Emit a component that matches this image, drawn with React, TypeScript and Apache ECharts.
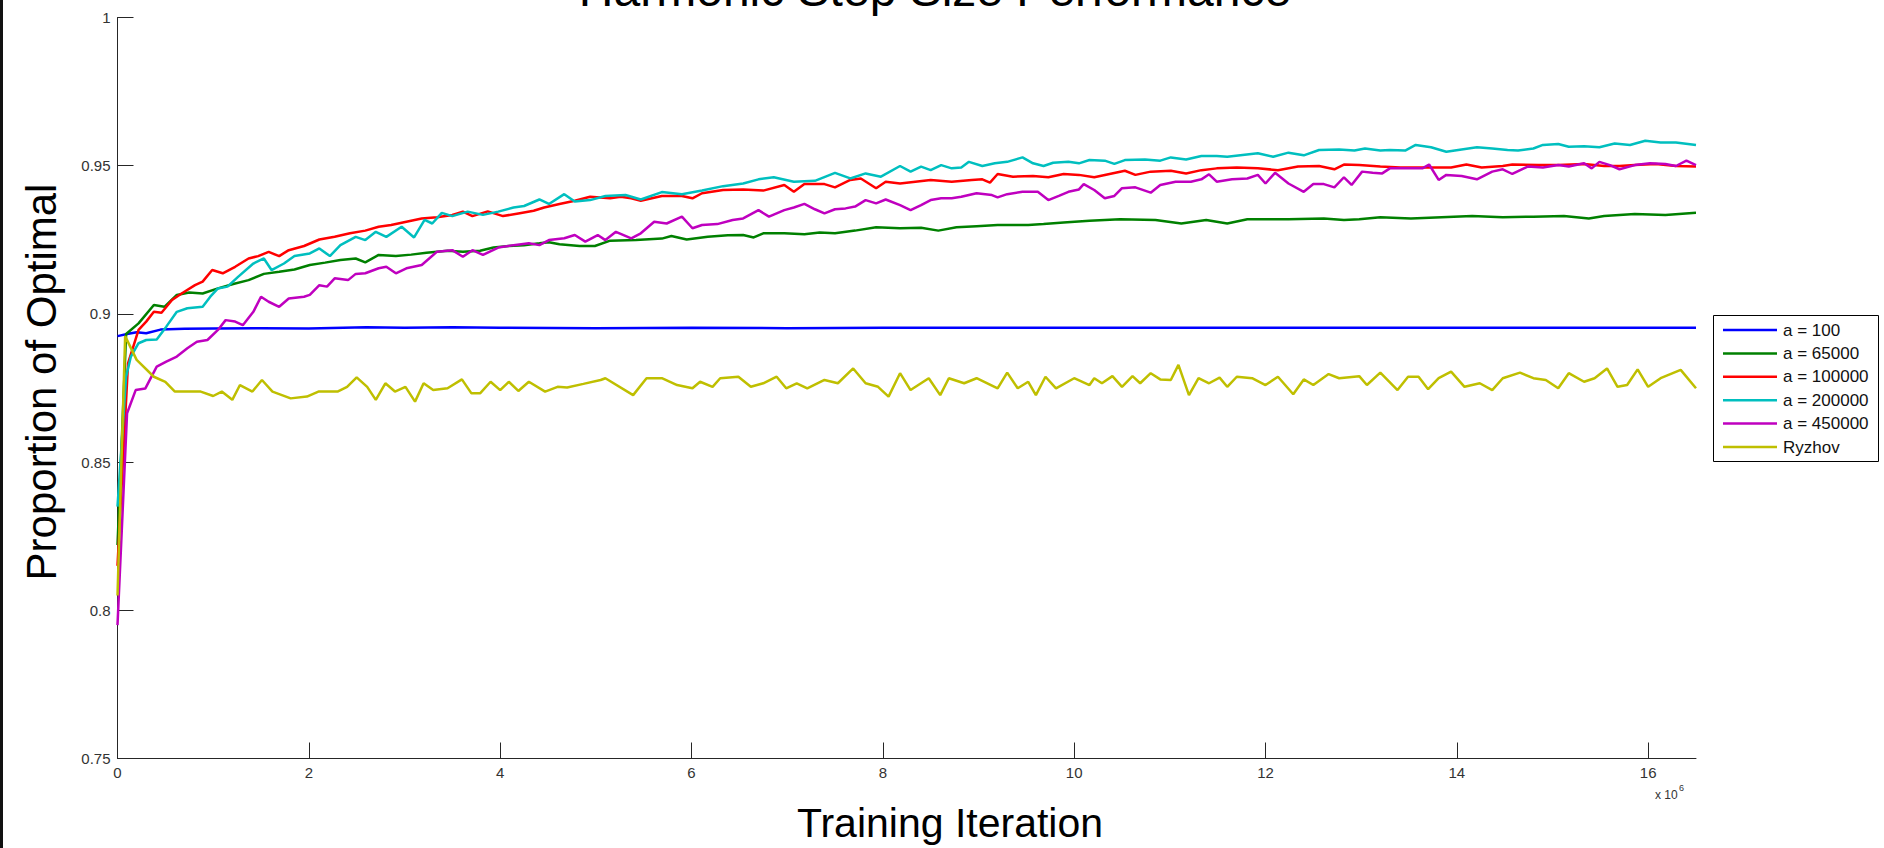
import React, { useEffect, useRef } from "react";
import * as echarts from "echarts";

// x values are in units of 10^6 training iterations
const SERIES_NAMES = ["a = 100", "a = 65000", "a = 100000", "a = 200000", "a = 450000", "Ryzhov"];
const SERIES_COLORS = ["#0000ff", "#008000", "#ff0000", "#00bfbf", "#bf00bf", "#bfbf00"];
const X_TICKS = [0, 2, 4, 6, 8, 10, 12, 14, 16];
const Y_TICKS = [0.75, 0.8, 0.85, 0.9, 0.95, 1];

const a100: [number, number][] = [
  [0, 0.8925], [0.1, 0.8932], [0.2, 0.8938], [0.3, 0.8935], [0.45, 0.8947], [0.7, 0.895], [1.0, 0.8951],
  [1.5, 0.8952], [2.0, 0.8951], [2.6, 0.8955], [3.0, 0.8953], [3.5, 0.8955], [4.0, 0.8953], [5.0, 0.8952],
  [6.0, 0.8953], [7.0, 0.8952], [8.0, 0.8953], [10.0, 0.8953], [12.0, 0.8953], [14.0, 0.8953], [16.5, 0.8953],
];

const a65000: [number, number][] = [
  [0, 0.822], [0.09, 0.8932], [0.22, 0.8968], [0.38, 0.903], [0.49, 0.9024], [0.62, 0.9064], [0.75, 0.9072],
  [0.89, 0.9069], [1.05, 0.9086], [1.21, 0.9101], [1.37, 0.9114], [1.53, 0.9135], [1.69, 0.9142], [1.85, 0.915],
  [2.01, 0.9165], [2.17, 0.9173], [2.33, 0.9182], [2.49, 0.9187], [2.59, 0.9174], [2.73, 0.9199], [2.91, 0.9195],
  [3.07, 0.92], [3.23, 0.9206], [3.45, 0.9213], [3.61, 0.921], [3.79, 0.9213], [3.93, 0.9224], [4.09, 0.9229],
  [4.25, 0.9232], [4.41, 0.9238], [4.51, 0.9242], [4.62, 0.9235], [4.83, 0.9229], [4.99, 0.9229], [5.15, 0.9247],
  [5.42, 0.9249], [5.69, 0.9254], [5.79, 0.9263], [5.95, 0.9251], [6.17, 0.926], [6.38, 0.9265], [6.54, 0.9266],
  [6.65, 0.9258], [6.75, 0.9272], [6.97, 0.9272], [7.18, 0.9269], [7.34, 0.9275], [7.5, 0.9272], [7.71, 0.9281],
  [7.93, 0.9292], [8.18, 0.9289], [8.4, 0.9291], [8.58, 0.9281], [8.77, 0.9292], [8.98, 0.9296], [9.2, 0.93],
  [9.52, 0.93], [9.68, 0.9303], [9.89, 0.9308], [10.16, 0.9314], [10.48, 0.9319], [10.85, 0.9317], [11.12, 0.9305],
  [11.38, 0.9317], [11.6, 0.9305], [11.81, 0.9319], [12.24, 0.9319], [12.61, 0.9322], [12.82, 0.9317], [12.98, 0.9319],
  [13.2, 0.9326], [13.52, 0.9322], [13.84, 0.9326], [14.16, 0.933], [14.48, 0.9326], [14.8, 0.9328], [15.12, 0.933],
  [15.38, 0.9322], [15.54, 0.933], [15.86, 0.9337], [16.18, 0.9334], [16.5, 0.9341],
];

const a100000: [number, number][] = [
  [0, 0.815], [0.11, 0.8833], [0.22, 0.8946], [0.3, 0.8974], [0.38, 0.9007], [0.46, 0.9004], [0.57, 0.9047],
  [0.67, 0.9069], [0.81, 0.9097], [0.89, 0.9109], [0.99, 0.9148], [1.1, 0.9137], [1.23, 0.9159], [1.37, 0.9187],
  [1.47, 0.9195], [1.58, 0.9209], [1.69, 0.9195], [1.79, 0.9215], [1.95, 0.9229], [2.11, 0.9251], [2.27, 0.926],
  [2.43, 0.9272], [2.59, 0.9281], [2.73, 0.9294], [2.86, 0.93], [3.02, 0.9311], [3.18, 0.9322], [3.34, 0.9326],
  [3.5, 0.9334], [3.61, 0.9345], [3.71, 0.933], [3.87, 0.9346], [4.03, 0.933], [4.19, 0.9339], [4.35, 0.9348],
  [4.46, 0.9359], [4.62, 0.9371], [4.78, 0.9382], [4.94, 0.9395], [5.15, 0.939], [5.26, 0.9395], [5.37, 0.939],
  [5.47, 0.9382], [5.69, 0.9398], [5.9, 0.9398], [6.01, 0.939], [6.11, 0.9407], [6.33, 0.9418], [6.54, 0.942],
  [6.75, 0.9416], [6.97, 0.9435], [7.07, 0.9412], [7.18, 0.9438], [7.39, 0.9438], [7.5, 0.9427], [7.66, 0.9452],
  [7.77, 0.9457], [7.93, 0.9424], [8.03, 0.9446], [8.18, 0.944], [8.34, 0.9446], [8.5, 0.9452], [8.72, 0.9446],
  [8.93, 0.9452], [9.04, 0.9454], [9.12, 0.9443], [9.2, 0.9472], [9.36, 0.9463], [9.57, 0.9465], [9.73, 0.9461],
  [9.89, 0.9472], [10.05, 0.9469], [10.21, 0.9461], [10.37, 0.9472], [10.53, 0.9483], [10.64, 0.9469], [10.8, 0.948],
  [11.01, 0.9483], [11.17, 0.9474], [11.33, 0.9485], [11.49, 0.9491], [11.7, 0.9494], [11.92, 0.9491], [12.13, 0.9485],
  [12.34, 0.9497], [12.56, 0.9499], [12.72, 0.9488], [12.82, 0.9504], [12.98, 0.9502], [13.2, 0.9497], [13.41, 0.9494],
  [13.68, 0.9494], [13.94, 0.9494], [14.1, 0.9504], [14.26, 0.9494], [14.48, 0.9499], [14.58, 0.9504], [14.85, 0.9502],
  [15.06, 0.9502], [15.33, 0.9506], [15.54, 0.9499], [15.7, 0.9499], [15.86, 0.9502], [16.08, 0.9506], [16.29, 0.9499],
  [16.5, 0.9497],
];

const a200000: [number, number][] = [
  [0, 0.835], [0.09, 0.8788], [0.14, 0.8856], [0.22, 0.8901], [0.3, 0.8912], [0.41, 0.8914], [0.51, 0.8957],
  [0.62, 0.9007], [0.73, 0.9019], [0.89, 0.9024], [0.97, 0.9058], [1.05, 0.9086], [1.15, 0.9092], [1.26, 0.9125],
  [1.42, 0.917], [1.53, 0.9187], [1.61, 0.9148], [1.74, 0.917], [1.85, 0.9195], [2.01, 0.9204], [2.11, 0.9221],
  [2.22, 0.9195], [2.33, 0.9232], [2.49, 0.926], [2.59, 0.9249], [2.7, 0.9277], [2.81, 0.926], [2.97, 0.9294],
  [3.1, 0.9258], [3.21, 0.9317], [3.29, 0.9305], [3.39, 0.9341], [3.5, 0.933], [3.66, 0.9345], [3.82, 0.9334],
  [3.98, 0.9345], [4.14, 0.9359], [4.25, 0.9364], [4.41, 0.9386], [4.51, 0.9371], [4.67, 0.9404], [4.78, 0.9379],
  [4.94, 0.9384], [5.1, 0.9398], [5.31, 0.9401], [5.47, 0.9386], [5.69, 0.9411], [5.9, 0.9404], [6.11, 0.9416],
  [6.33, 0.9431], [6.54, 0.944], [6.7, 0.9454], [6.86, 0.9461], [7.07, 0.9446], [7.29, 0.9449], [7.5, 0.9476],
  [7.66, 0.9457], [7.82, 0.9474], [7.98, 0.9463], [8.18, 0.9499], [8.29, 0.948], [8.4, 0.9497], [8.5, 0.9485],
  [8.61, 0.9502], [8.72, 0.9491], [8.82, 0.9494], [8.9, 0.9513], [9.04, 0.9499], [9.17, 0.9508], [9.3, 0.9513],
  [9.46, 0.9528], [9.57, 0.9508], [9.68, 0.9499], [9.78, 0.951], [9.94, 0.9513], [10.05, 0.9508], [10.16, 0.9519],
  [10.32, 0.9517], [10.42, 0.9506], [10.53, 0.9519], [10.74, 0.9521], [10.9, 0.9517], [11.01, 0.9528], [11.17, 0.9521],
  [11.33, 0.9533], [11.49, 0.9533], [11.6, 0.953], [11.76, 0.9536], [11.92, 0.9542], [12.08, 0.953], [12.24, 0.9544],
  [12.4, 0.9535], [12.56, 0.9553], [12.77, 0.9555], [12.93, 0.9551], [13.04, 0.9558], [13.2, 0.9551], [13.3, 0.9553],
  [13.46, 0.9551], [13.57, 0.957], [13.73, 0.9562], [13.89, 0.9547], [14.05, 0.9555], [14.21, 0.9562], [14.37, 0.9558],
  [14.53, 0.9553], [14.64, 0.9551], [14.8, 0.9558], [14.9, 0.957], [15.06, 0.9573], [15.17, 0.9564], [15.33, 0.9566],
  [15.49, 0.9562], [15.65, 0.9575], [15.81, 0.957], [15.97, 0.9584], [16.13, 0.9578], [16.29, 0.9578], [16.5, 0.957],
];

const a450000: [number, number][] = [
  [0, 0.795], [0.1, 0.8665], [0.19, 0.8743], [0.29, 0.8748], [0.41, 0.8822], [0.51, 0.8839], [0.62, 0.8856],
  [0.73, 0.8884], [0.83, 0.8906], [0.94, 0.8912], [1.05, 0.8946], [1.13, 0.8979], [1.23, 0.8974], [1.31, 0.8962],
  [1.42, 0.9007], [1.5, 0.9058], [1.58, 0.9041], [1.69, 0.9024], [1.79, 0.9052], [1.95, 0.9058], [2.01, 0.9064],
  [2.11, 0.9097], [2.19, 0.9092], [2.27, 0.912], [2.41, 0.9114], [2.49, 0.9135], [2.59, 0.9137], [2.73, 0.9154],
  [2.81, 0.9159], [2.91, 0.9137], [3.02, 0.9154], [3.18, 0.9165], [3.34, 0.921], [3.5, 0.9215], [3.61, 0.9193],
  [3.71, 0.9215], [3.82, 0.9199], [3.98, 0.9224], [4.14, 0.9232], [4.3, 0.9238], [4.41, 0.9232], [4.51, 0.9249],
  [4.67, 0.9255], [4.78, 0.9266], [4.89, 0.9244], [5.02, 0.9266], [5.1, 0.9249], [5.21, 0.9277], [5.37, 0.9255],
  [5.47, 0.9272], [5.61, 0.9311], [5.74, 0.9305], [5.9, 0.9328], [6.01, 0.9289], [6.11, 0.93], [6.27, 0.9303],
  [6.43, 0.9317], [6.54, 0.9322], [6.7, 0.935], [6.81, 0.9328], [6.97, 0.935], [7.07, 0.9359], [7.18, 0.9371],
  [7.29, 0.9353], [7.39, 0.9339], [7.5, 0.9353], [7.61, 0.9356], [7.71, 0.9362], [7.82, 0.9384], [7.93, 0.9373],
  [8.03, 0.9386], [8.18, 0.9367], [8.29, 0.935], [8.4, 0.9367], [8.5, 0.9384], [8.61, 0.939], [8.72, 0.939],
  [8.82, 0.9395], [8.98, 0.9407], [9.14, 0.9401], [9.2, 0.9393], [9.3, 0.9404], [9.46, 0.9412], [9.62, 0.9412],
  [9.73, 0.9384], [9.84, 0.9398], [9.94, 0.9412], [10.05, 0.942], [10.1, 0.9438], [10.21, 0.9418], [10.32, 0.939],
  [10.42, 0.9398], [10.5, 0.9424], [10.64, 0.9427], [10.8, 0.9409], [10.9, 0.9435], [11.06, 0.9446], [11.22, 0.9446],
  [11.33, 0.9454], [11.41, 0.9471], [11.49, 0.9446], [11.65, 0.9454], [11.81, 0.9457], [11.92, 0.9469], [12.0, 0.944],
  [12.1, 0.9476], [12.24, 0.944], [12.4, 0.9412], [12.5, 0.9438], [12.61, 0.9438], [12.72, 0.9427], [12.82, 0.9461],
  [12.9, 0.9435], [13.01, 0.948], [13.12, 0.9476], [13.22, 0.9474], [13.3, 0.9491], [13.46, 0.9491], [13.64, 0.9491],
  [13.71, 0.9504], [13.81, 0.9452], [13.89, 0.9469], [14.05, 0.9465], [14.21, 0.9454], [14.37, 0.948], [14.48, 0.9488],
  [14.58, 0.9472], [14.74, 0.9497], [14.9, 0.9494], [15.06, 0.9502], [15.17, 0.9497], [15.33, 0.9508], [15.41, 0.9491],
  [15.49, 0.9513], [15.6, 0.9502], [15.7, 0.9488], [15.86, 0.9502], [16.02, 0.9508], [16.18, 0.9506], [16.29, 0.9499],
  [16.4, 0.9517], [16.5, 0.9502],
];

const ryzhov: [number, number][] = [
  [0, 0.805], [0.08, 0.8925], [0.2, 0.8845], [0.38, 0.8788], [0.5, 0.8771], [0.6, 0.8738], [0.87, 0.8738],
  [1.0, 0.8723], [1.09, 0.8738], [1.2, 0.871], [1.28, 0.876], [1.41, 0.8738], [1.51, 0.8777], [1.62, 0.8738],
  [1.81, 0.8715], [1.98, 0.8721], [2.1, 0.8738], [2.3, 0.8738], [2.4, 0.8754], [2.5, 0.8786], [2.61, 0.8754],
  [2.7, 0.871], [2.8, 0.8766], [2.9, 0.8738], [3.01, 0.8754], [3.11, 0.8704], [3.2, 0.8766], [3.3, 0.8743],
  [3.45, 0.8749], [3.6, 0.8779], [3.7, 0.8732], [3.79, 0.8732], [3.9, 0.8771], [4.0, 0.8743], [4.09, 0.8771],
  [4.19, 0.874], [4.3, 0.8771], [4.47, 0.8738], [4.6, 0.8754], [4.7, 0.8752], [4.87, 0.8764], [5.05, 0.8777],
  [5.1, 0.8783], [5.39, 0.8726], [5.53, 0.8783], [5.69, 0.8783], [5.85, 0.876], [6.01, 0.8749], [6.09, 0.8771],
  [6.22, 0.8754], [6.3, 0.8783], [6.49, 0.8788], [6.62, 0.8754], [6.75, 0.8766], [6.89, 0.8788], [6.99, 0.8749],
  [7.1, 0.8766], [7.21, 0.8749], [7.39, 0.8777], [7.53, 0.8766], [7.69, 0.8816], [7.82, 0.8766], [7.95, 0.8754],
  [8.06, 0.8721], [8.18, 0.88], [8.29, 0.8743], [8.48, 0.8783], [8.6, 0.8726], [8.69, 0.8783], [8.85, 0.8766],
  [8.98, 0.8783], [9.2, 0.8749], [9.3, 0.8802], [9.41, 0.8749], [9.52, 0.8771], [9.6, 0.8726], [9.7, 0.8788],
  [9.81, 0.8749], [10.0, 0.8783], [10.16, 0.876], [10.21, 0.8783], [10.29, 0.8766], [10.4, 0.879], [10.5, 0.8754],
  [10.61, 0.879], [10.69, 0.8766], [10.8, 0.88], [10.9, 0.8779], [11.01, 0.8777], [11.09, 0.8828], [11.2, 0.8726],
  [11.3, 0.8783], [11.41, 0.8766], [11.52, 0.8785], [11.6, 0.8754], [11.7, 0.8788], [11.86, 0.8783], [12.0, 0.876],
  [12.13, 0.8788], [12.29, 0.8729], [12.4, 0.8779], [12.5, 0.876], [12.66, 0.8797], [12.77, 0.8783], [12.98, 0.879],
  [13.06, 0.876], [13.2, 0.8802], [13.38, 0.8743], [13.49, 0.8788], [13.6, 0.8788], [13.7, 0.8746], [13.81, 0.8783],
  [13.94, 0.8805], [14.08, 0.8754], [14.24, 0.8766], [14.37, 0.8743], [14.48, 0.8783], [14.66, 0.8802], [14.8, 0.8783],
  [14.93, 0.8777], [15.06, 0.8749], [15.17, 0.88], [15.33, 0.8771], [15.44, 0.8783], [15.57, 0.8816], [15.68, 0.8754],
  [15.78, 0.876], [15.89, 0.8813], [16.0, 0.8754], [16.13, 0.8783], [16.34, 0.8811], [16.5, 0.8749],
];

const SERIES_DATA = [a100, a65000, a100000, a200000, a450000, ryzhov];

const FONT = '"Liberation Sans", Arial, Helvetica, sans-serif';
const AXIS_COLOR = "#262626";

// legend box geometry (pixels)
const LEG_X = 1713.5;
const LEG_Y = 315.5;
const LEG_W = 165;
const LEG_H = 146;
const LEG_ROW = 23.4;

export default function App() {
  const ref = useRef<HTMLDivElement>(null);

  useEffect(() => {
    if (!ref.current) return;
    const chart = echarts.init(ref.current, null, { renderer: "svg" });
    const fmt = (v: number) => String(Number(v.toFixed(2)));

    const legendChildren: any[] = [
      {
        type: "rect",
        shape: { x: 0, y: 0, width: LEG_W, height: LEG_H },
        style: { fill: "#fff", stroke: "#000", lineWidth: 1 },
      },
    ];
    SERIES_NAMES.forEach((name, i) => {
      const cy = 14.5 + i * LEG_ROW;
      legendChildren.push({
        type: "line",
        shape: { x1: 9.5, y1: cy, x2: 63.5, y2: cy },
        style: { stroke: SERIES_COLORS[i], lineWidth: 2.5 },
      });
      legendChildren.push({
        type: "text",
        x: 69.5,
        y: cy,
        style: { text: name, fontSize: 17, fontFamily: FONT, fill: "#111", align: "left", verticalAlign: "middle" },
      });
    });

    chart.setOption({
      animation: false,
      backgroundColor: "#ffffff",
      textStyle: { fontFamily: FONT },
      grid: { left: 117.5, top: 17.5, width: 1578.5, height: 741 },
      xAxis: {
        type: "value",
        min: 0,
        max: 16.5,
        interval: 2,
        axisLine: { show: true, onZero: false, lineStyle: { color: AXIS_COLOR, width: 1 } },
        axisTick: { show: true, inside: true, length: 16, customValues: X_TICKS, lineStyle: { color: AXIS_COLOR } },
        axisLabel: { customValues: X_TICKS, fontSize: 15, color: "#333", margin: 6, fontFamily: FONT, formatter: fmt },
        splitLine: { show: false },
      },
      yAxis: {
        type: "value",
        min: 0.75,
        max: 1,
        interval: 0.05,
        axisLine: { show: true, lineStyle: { color: AXIS_COLOR, width: 1 } },
        axisTick: { show: true, inside: true, length: 16, customValues: Y_TICKS, lineStyle: { color: AXIS_COLOR } },
        axisLabel: { customValues: Y_TICKS, fontSize: 15, color: "#333", margin: 7, fontFamily: FONT, formatter: fmt },
        splitLine: { show: false },
      },
      series: SERIES_NAMES.map((name, i) => ({
        name,
        type: "line",
        data: SERIES_DATA[i],
        showSymbol: false,
        symbol: "none",
        color: SERIES_COLORS[i],
        lineStyle: { width: 2.5, color: SERIES_COLORS[i] },
        itemStyle: { color: SERIES_COLORS[i] },
      })),
      graphic: [
        { type: "rect", shape: { x: 0, y: 0, width: 3, height: 848 }, style: { fill: "#111" } },
        {
          type: "text",
          x: 935,
          y: -11,
          style: { text: "Harmonic Step Size Performance", fontSize: 48, fontFamily: FONT, fill: "#000", align: "center", verticalAlign: "middle" },
        },
        {
          type: "text",
          x: 950,
          y: 823,
          style: { text: "Training Iteration", fontSize: 41, fontFamily: FONT, fill: "#000", align: "center", verticalAlign: "middle" },
        },
        {
          type: "text",
          x: 41,
          y: 382,
          rotation: Math.PI / 2,
          style: { text: "Proportion of Optimal", fontSize: 42, fontFamily: FONT, fill: "#000", align: "center", verticalAlign: "middle" },
        },
        {
          type: "text",
          x: 1655,
          y: 795,
          style: { text: "x 10", fontSize: 12, fontFamily: FONT, fill: "#333", align: "left", verticalAlign: "middle" },
        },
        {
          type: "text",
          x: 1679,
          y: 788,
          style: { text: "6", fontSize: 9, fontFamily: FONT, fill: "#333", align: "left", verticalAlign: "middle" },
        },
        { type: "group", x: LEG_X, y: LEG_Y, children: legendChildren },
      ],
    });
    return () => chart.dispose();
  }, []);

  return (
    <div
      ref={ref}
      style={{ position: "fixed", left: 0, top: 0, width: 1884, height: 848, background: "#fff" }}
    />
  );
}
